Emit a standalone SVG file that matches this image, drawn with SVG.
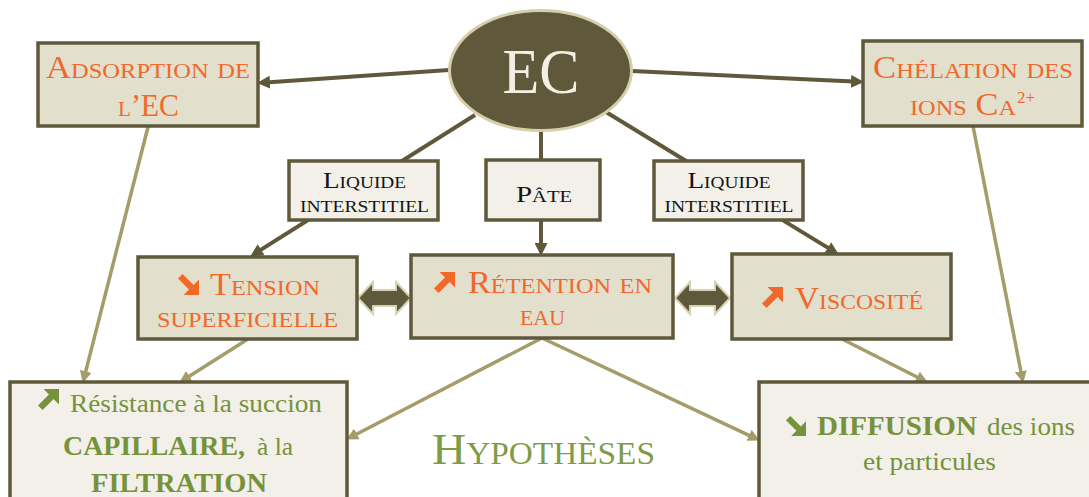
<svg xmlns="http://www.w3.org/2000/svg" xmlns:xlink="http://www.w3.org/1999/xlink" width="1089" height="497" viewBox="0 0 1089 497">
<style>
.box{fill:#E2DFCD;stroke:#5F583B;stroke-width:3.5}
.lbl{fill:#F2F0E9;stroke:#5F583B;stroke-width:3.5}
.dk{stroke:#5F583B;stroke-width:4;fill:none;marker-end:url(#hd)}
.lt{stroke:#A59C6A;stroke-width:3.5;fill:none;marker-end:url(#hl)}
.t{font-family:"Liberation Serif",serif}
.sc{font-variant:small-caps}
.org{fill:#F0692B;font-size:31px}
.blk{fill:#141414;font-size:24px}
.grn{fill:#76923B}
.dbl{fill:#5F583B;stroke:#D8D1B1;stroke-width:2}
</style>
<defs>
<marker id="hd" markerUnits="userSpaceOnUse" markerWidth="13" markerHeight="13" refX="8" refY="6.5" orient="auto" viewBox="0 0 13 13"><path d="M0,0 L13,6.5 L0,13 Z" fill="#5F583B"/></marker>
<marker id="hl" markerUnits="userSpaceOnUse" markerWidth="12" markerHeight="12" refX="7" refY="6" orient="auto" viewBox="0 0 12 12"><path d="M0,0 L12,6 L0,12 Z" fill="#A59C6A"/></marker>
<path id="up" d="M6,0 L20,0 L20,14 L15.1,9.1 L5.1,19.1 L0.9,14.9 L10.9,4.9 Z"/>
<path id="dn" d="M6,20 L20,20 L20,6 L15.1,10.9 L5.1,0.9 L0.9,5.1 L10.9,15.1 Z"/>
</defs>
<rect width="1089" height="497" fill="#FFFFFF"/>
<g id="connectors">
<line class="dk" x1="449" y1="70" x2="262" y2="82.7"/>
<line class="dk" x1="632" y1="71" x2="859" y2="81.8"/>
<line class="dk" x1="475" y1="115" x2="254.4" y2="253.9"/>
<line class="dk" x1="541" y1="131" x2="541" y2="251"/>
<line class="dk" x1="606" y1="112" x2="834.6" y2="251.9"/>
<line class="lt" x1="148" y1="127" x2="84" y2="378.1"/>
<line class="lt" x1="248" y1="339" x2="183.4" y2="379.9"/>
<line class="lt" x1="542" y1="338" x2="350.6" y2="437.2"/>
<line class="lt" x1="542" y1="338" x2="755.4" y2="438.3"/>
<line class="lt" x1="842" y1="339" x2="923.4" y2="380.2"/>
<line class="lt" x1="973" y1="126" x2="1022.2" y2="378.1"/>
<path class="dbl" d="M358,298 L373,282 L373,290 L396,290 L396,282 L411,298 L396,314 L396,306 L373,306 L373,314 Z"/>
<path class="dbl" d="M675,298 L690,282 L690,290 L715,290 L715,282 L730,298 L715,314 L715,306 L690,306 L690,314 Z"/>
</g>
<g id="ec">
<ellipse cx="540.5" cy="70.5" rx="91" ry="60" fill="#5F583B" stroke="#D5CEAA" stroke-width="3"/>
<text class="t" x="541" y="93" font-size="64" fill="#F3EFE2" text-anchor="middle" textLength="77" lengthAdjust="spacingAndGlyphs">EC</text>
</g>
<g id="adsorption">
<rect class="box" x="38" y="43" width="220" height="83"/>
<text class="t sc org" x="148" y="78" text-anchor="middle" textLength="204" lengthAdjust="spacingAndGlyphs">Adsorption de</text>
<text class="t sc org" x="148.5" y="116" text-anchor="middle" textLength="61" lengthAdjust="spacingAndGlyphs">l’EC</text>
</g>
<g id="chelation">
<rect class="box" x="863" y="41" width="219" height="85"/>
<text class="t sc org" x="973" y="78" text-anchor="middle" textLength="200" lengthAdjust="spacingAndGlyphs">Chélation des</text>
<text class="t sc org" x="910" y="115" textLength="106" lengthAdjust="spacingAndGlyphs">ions Ca</text>
<text class="t" x="1017" y="103" font-size="17" fill="#F0692B">2+</text>
</g>
<g id="liquide-gauche">
<rect class="lbl" x="289" y="161" width="149" height="59"/>
<text class="t sc blk" x="364.5" y="188" text-anchor="middle" textLength="83" lengthAdjust="spacingAndGlyphs">Liquide</text>
<text class="t sc blk" x="364.5" y="212" text-anchor="middle" textLength="129" lengthAdjust="spacingAndGlyphs">interstitiel</text>
</g>
<g id="pate">
<rect class="lbl" x="486" y="160" width="114" height="60"/>
<text class="t sc blk" x="544" y="202" font-size="29" text-anchor="middle" textLength="56" lengthAdjust="spacingAndGlyphs">Pâte</text>
</g>
<g id="liquide-droite">
<rect class="lbl" x="654" y="161" width="149" height="59"/>
<text class="t sc blk" x="729" y="188" text-anchor="middle" textLength="83" lengthAdjust="spacingAndGlyphs">Liquide</text>
<text class="t sc blk" x="729" y="212" text-anchor="middle" textLength="129" lengthAdjust="spacingAndGlyphs">interstitiel</text>
</g>
<g id="tension">
<rect class="box" x="138" y="257" width="219" height="82"/>
<use xlink:href="#dn" transform="translate(177,273) scale(1.1)" fill="#F0692B"/>
<text class="t sc org" x="210" y="295" textLength="110" lengthAdjust="spacingAndGlyphs">Tension</text>
<text class="t sc org" x="247.5" y="327" text-anchor="middle" textLength="181" lengthAdjust="spacingAndGlyphs">superficielle</text>
</g>
<g id="retention">
<rect class="box" x="411" y="255" width="262" height="83"/>
<use xlink:href="#up" transform="translate(433,272) scale(1.1)" fill="#F0692B"/>
<text class="t sc org" x="468" y="293" textLength="184" lengthAdjust="spacingAndGlyphs">Rétention en</text>
<text class="t sc org" x="542.5" y="325" text-anchor="middle" textLength="45" lengthAdjust="spacingAndGlyphs">eau</text>
</g>
<g id="viscosite">
<rect class="box" x="732" y="254" width="219" height="85"/>
<use xlink:href="#up" transform="translate(761,287) scale(1.1)" fill="#F0692B"/>
<text class="t sc org" x="795" y="309" textLength="128" lengthAdjust="spacingAndGlyphs">Viscosité</text>
</g>
<g id="resistance">
<rect class="lbl" x="10" y="382" width="337" height="130"/>
<use xlink:href="#up" transform="translate(37,389) scale(1.1)" fill="#76923B"/>
<text class="t grn" x="70" y="412" font-size="26" textLength="252" lengthAdjust="spacingAndGlyphs">Résistance à la succion</text>
<text class="t grn" x="63" y="455" font-size="27" font-weight="bold" textLength="182" lengthAdjust="spacingAndGlyphs">CAPILLAIRE,</text>
<text class="t grn" x="257" y="455" font-size="26" textLength="36" lengthAdjust="spacingAndGlyphs">à la</text>
<text class="t grn" x="179" y="492" font-size="27" font-weight="bold" text-anchor="middle" textLength="176" lengthAdjust="spacingAndGlyphs">FILTRATION</text>
</g>
<g id="diffusion">
<rect class="lbl" x="759" y="382" width="342" height="130"/>
<use xlink:href="#dn" transform="translate(785,415) scale(1.05)" fill="#76923B"/>
<text class="t grn" x="817" y="435" font-size="27" font-weight="bold" textLength="160" lengthAdjust="spacingAndGlyphs">DIFFUSION</text>
<text class="t grn" x="987" y="435" font-size="26" textLength="88" lengthAdjust="spacingAndGlyphs">des ions</text>
<text class="t grn" x="929.5" y="470" font-size="26" text-anchor="middle" textLength="133" lengthAdjust="spacingAndGlyphs">et particules</text>
</g>
<g id="hypotheses">
<text class="t sc" x="543.5" y="464" font-size="44" fill="#7E9B47" text-anchor="middle" textLength="223" lengthAdjust="spacingAndGlyphs">Hypothèses</text>
</g>
</svg>
